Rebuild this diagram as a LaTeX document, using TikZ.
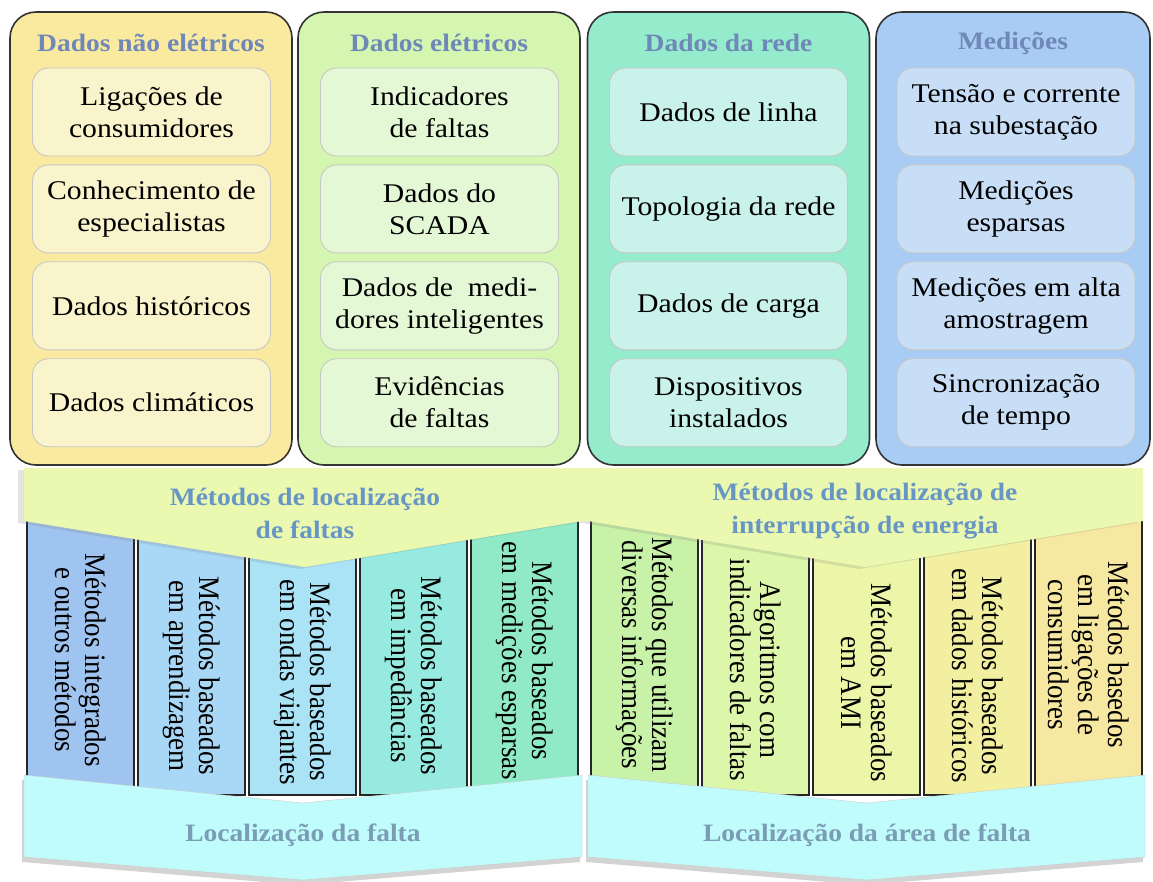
\documentclass[tikz,border=0pt]{standalone}
\usepackage{fontspec}
\setmainfont{Liberation Serif}
\newfontfamily\widefont[FakeStretch=1.1]{Liberation Serif}
\newfontfamily\tallfont[FakeStretch=0.91]{Liberation Serif}
\usetikzlibrary{positioning,shadows}

\definecolor{panelA}{RGB}{250,234,160}\definecolor{itemA}{RGB}{250,244,204}
\definecolor{panelB}{RGB}{212,246,176}\definecolor{itemB}{RGB}{228,248,214}
\definecolor{panelC}{RGB}{148,236,204}\definecolor{itemC}{RGB}{200,242,234}
\definecolor{panelD}{RGB}{168,204,244}\definecolor{itemD}{RGB}{200,222,246}
\definecolor{headblue}{RGB}{112,136,184}
\definecolor{bandblue}{RGB}{104,150,196}
\definecolor{lowblue}{RGB}{122,156,180}
\definecolor{bandtop}{RGB}{234,248,176}
\definecolor{bandlow}{RGB}{192,252,252}
\definecolor{colA1}{RGB}{160,196,240}\definecolor{colA2}{RGB}{168,216,246}
\definecolor{colA3}{RGB}{170,226,246}\definecolor{colA4}{RGB}{150,234,224}
\definecolor{colA5}{RGB}{144,234,200}
\definecolor{colB1}{RGB}{200,242,168}\definecolor{colB2}{RGB}{220,246,170}
\definecolor{colB3}{RGB}{236,246,168}\definecolor{colB4}{RGB}{242,240,160}
\definecolor{colB5}{RGB}{246,232,160}

\tikzset{
  panel/.style={draw=black!80, line width=1.6pt, rounded corners=26pt, minimum width=282pt, minimum height=453pt, inner sep=0pt},
  item/.style={draw=black!22, line width=0.9pt, rounded corners=16pt, minimum width=238pt, minimum height=88pt, inner sep=0pt, align=center, font=\widefont\fontsize{27}{32}\selectfont},
  head/.style={text=headblue, font=\widefont\bfseries\fontsize{25}{33}\selectfont, align=center},
  bandtxt/.style={text=bandblue, font=\widefont\bfseries\fontsize{25}{33}\selectfont, align=center},
  lowtxt/.style={text=lowblue, font=\widefont\bfseries\fontsize{25}{33}\selectfont, align=center},
  methcol/.style={draw=black!85, line width=1.5pt},
  vtext/.style={rotate=-90, align=center, inner sep=0pt, font=\tallfont\fontsize{29.7}{30}\selectfont}
}

\begin{document}
\begin{tikzpicture}[x=1pt, y=-1pt]
    \useasboundingbox (0,0) rectangle (1153,882);

    % Data panels
    \node[panel, fill=panelA] (pA) at (151,238.5) {};
    \node[panel, fill=panelB] (pB) at (439,238.5) {};
    \node[panel, fill=panelC] (pC) at (728.5,238.5) {};
    \node[panel, fill=panelD, minimum width=274pt] (pD) at (1013,238.5) {};
    \node[head] (hA) at (151,43) {Dados não elétricos};
    \node[head] (hB) at (439,43) {Dados elétricos};
    \node[head] (hC) at (728.5,43) {Dados da rede};
    \node[head] (hD) at (1013,43) {Medições};

    \node[item, fill=itemA] (a1) at (151.5,112) {Ligações de\\consumidores};
    \node[item, fill=itemA, below=8pt of a1] (a2) {Conhecimento de\\especialistas};
    \node[item, fill=itemA, below=8pt of a2] (a3) {Dados históricos};
    \node[item, fill=itemA, below=8pt of a3] (a4) {Dados climáticos};

    \node[item, fill=itemB] (b1) at (439.5,112) {Indicadores\\de faltas};
    \node[item, fill=itemB, below=8pt of b1] (b2) {Dados do\\SCADA};
    \node[item, fill=itemB, below=8pt of b2] (b3) {Dados de~ medi-\\dores inteligentes};
    \node[item, fill=itemB, below=8pt of b3] (b4) {Evidências\\de faltas};

    \node[item, fill=itemC] (c1) at (728.5,112) {Dados de linha};
    \node[item, fill=itemC, below=8pt of c1] (c2) {Topologia da rede};
    \node[item, fill=itemC, below=8pt of c2] (c3) {Dados de carga};
    \node[item, fill=itemC, below=8pt of c3] (c4) {Dispositivos\\instalados};

    \node[item, fill=itemD] (d1) at (1016,112) {Tensão e corrente\\na subestação};
    \node[item, fill=itemD, below=8pt of d1] (d2) {Medições\\esparsas};
    \node[item, fill=itemD, below=8pt of d2] (d3) {Medições em alta\\amostragem};
    \node[item, fill=itemD, below=8pt of d3] (d4) {Sincronização\\de tempo};

    % Method columns
    \foreach \c [count=\i from 0] in {colA1,colA2,colA3,colA4,colA5}
        \draw[methcol, fill=\c] ({27+111*\i},518) rectangle ++(107,277);
    \foreach \c [count=\i from 0] in {colB1,colB2,colB3,colB4,colB5}
        \draw[methcol, fill=\c] ({591+111*\i},518) rectangle ++(107,277);

    \node[vtext] (m1) at (80.5,660) {Métodos integrados\\e outros métodos};
    \node[vtext] (m2) at (191.5,676) {Métodos baseados\\em aprendizagem};
    \node[vtext] (m3) at (302.5,682) {Métodos baseados\\em ondas viajantes};
    \node[vtext] (m4) at (413.5,676) {Métodos baseados\\em impedâncias};
    \node[vtext] (m5) at (524.5,661) {Métodos baseados\\em medições esparsas};
    \node[vtext] (n1) at (644.5,655) {Métodos que utilizam\\diversas informações};
    \node[vtext] (n2) at (755.5,670) {Algoritmos com\\indicadores de faltas};
    \node[vtext] (n3) at (866.5,683) {Métodos baseados\\em AMI};
    \node[vtext] (n4) at (977.5,676) {Métodos baseados\\em dados históricos};
    \node[vtext] (n5) at (1088.5,655) {Métodos basedos\\em ligações de\\consumidores};

    % Bands
    \fill[bandtop, drop shadow={shadow xshift=-6pt, shadow yshift=-2pt, opacity=0.22}]
        (24,468) -- (1143,468) -- (1143,521) -- (865,567) -- (588,521) -- (582,521) -- (305,567) -- (24,521) -- cycle;
    \filldraw[fill=bandlow, draw=black!20, drop shadow={shadow xshift=-2pt, shadow yshift=-5pt, opacity=0.35}]
        (24,775) -- (303,803) -- (582,775) -- (582,857) -- (303,880) -- (24,857) -- cycle;
    \filldraw[fill=bandlow, draw=black!20, drop shadow={shadow xshift=-2pt, shadow yshift=-5pt, opacity=0.35}]
        (588,775) -- (867,803) -- (1145,775) -- (1145,857) -- (867,880) -- (588,857) -- cycle;

    \node[bandtxt] (fl) at (305,513.5) {Métodos de localização\\de faltas};
    \node[bandtxt] (il) at (865,511.5) {Métodos de localização de\\interrupção de energia};
    \node[lowtxt] (lf) at (303,835) {Localização da falta};
    \node[lowtxt] (la) at (867,835) {Localização da área de falta};
\end{tikzpicture}
\end{document}
